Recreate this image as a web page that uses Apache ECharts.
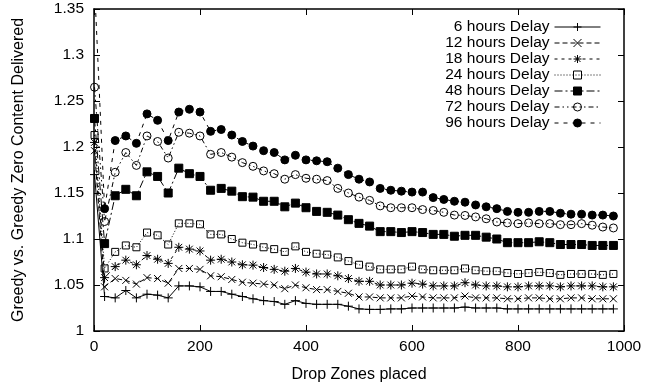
<!DOCTYPE html>
<html>
<head>
<meta charset="utf-8">
<script src="https://cdn.jsdelivr.net/npm/echarts@6/dist/echarts.min.js"></script>
<style>
  html, body { margin: 0; padding: 0; background: #fff; }
  #chart { width: 667px; height: 388px; }
</style>
</head>
<body>
<div id="chart"></div>
<script>
// ---- data ----
const xs = [1,20,40,60,80,100,120,140,160,180,200,220,240,260,280,300,320,340,360,380,400,420,440,460,480,500,520,540,560,580,600,620,640,660,680,700,720,740,760,780,800,820,840,860,880,900,920,940,960,980];

const h6 = [1.17, 1.0375,1.036,1.044,1.036,1.040,1.039,1.036,1.049,1.049,1.048, 1.043,1.043,1.040,1.0375,1.035,1.033,1.032,1.029,1.033,1.030, 1.029,1.029,1.029,1.027,1.024,1.0235,1.0235,1.024,1.024,1.025, 1.025,1.025,1.025,1.025,1.026,1.025,1.025,1.025,1.024,1.024, 1.024,1.024,1.024,1.024,1.024,1.024,1.024,1.024,1.024];
const h12 = [1.196, 1.048,1.057,1.055,1.051,1.058,1.057,1.052,1.068,1.068,1.067, 1.060,1.059,1.056,1.053,1.052,1.051,1.050,1.046,1.050,1.047, 1.045,1.045,1.043,1.041,1.037,1.037,1.036,1.036,1.036,1.038, 1.037,1.036,1.036,1.036,1.038,1.036,1.036,1.036,1.035,1.035, 1.036,1.036,1.035,1.035,1.036,1.036,1.035,1.035,1.035];
const h18 = [1.205, 1.058,1.070,1.077,1.072,1.082,1.078,1.0735,1.091,1.089,1.087, 1.077,1.078,1.075,1.072,1.0716,1.069,1.067,1.065,1.068,1.064, 1.062,1.062,1.060,1.057,1.054,1.054,1.050,1.050,1.050,1.052, 1.051,1.049,1.049,1.049,1.0525,1.050,1.049,1.049,1.048,1.048, 1.049,1.049,1.049,1.048,1.049,1.049,1.049,1.048,1.048];
const h24 = [1.213, 1.068,1.086,1.093,1.091,1.107,1.104,1.094,1.117,1.117,1.116, 1.105,1.105,1.100,1.096,1.094,1.091,1.089,1.086,1.092,1.086, 1.084,1.083,1.080,1.076,1.072,1.070,1.067,1.067,1.067,1.070, 1.067,1.066,1.066,1.066,1.068,1.066,1.065,1.065,1.063,1.062, 1.063,1.064,1.063,1.061,1.062,1.062,1.062,1.061,1.062];
const h48 = [1.231, 1.095,1.147,1.154,1.147,1.173,1.168,1.150,1.177,1.171,1.168, 1.153,1.155,1.152,1.146,1.1455,1.141,1.141,1.135,1.139,1.134, 1.130,1.129,1.126,1.121,1.117,1.114,1.108,1.108,1.107,1.108, 1.107,1.105,1.105,1.103,1.104,1.104,1.102,1.100,1.096,1.096, 1.096,1.097,1.096,1.094,1.094,1.094,1.093,1.093,1.093];
const h72 = [1.265, 1.119,1.1725,1.194,1.180,1.212,1.206,1.188,1.216,1.215,1.212, 1.192,1.194,1.189,1.183,1.179,1.174,1.171,1.165,1.170,1.166, 1.165,1.1635,1.155,1.150,1.1455,1.142,1.136,1.134,1.134,1.134, 1.132,1.131,1.129,1.126,1.1256,1.124,1.122,1.1185,1.1175,1.1167, 1.1175,1.1167,1.1167,1.1156,1.1156,1.1167,1.115,1.113,1.112];
const h96 = [1.375, 1.133,1.207,1.212,1.204,1.236,1.229,1.207,1.238,1.241,1.238, 1.217,1.219,1.213,1.206,1.201,1.196,1.194,1.186,1.191,1.186, 1.185,1.184,1.177,1.170,1.165,1.162,1.155,1.153,1.152,1.151, 1.151,1.145,1.143,1.141,1.140,1.137,1.135,1.133,1.130,1.129, 1.129,1.130,1.130,1.128,1.127,1.127,1.126,1.126,1.125];

const seriesNames = ['6 hours Delay','12 hours Delay','18 hours Delay','24 hours Delay','48 hours Delay','72 hours Delay','96 hours Delay'];
const seriesValues = [h6, h12, h18, h24, h48, h72, h96];

const xTickLabels = ['0','200','400','600','800','1000'];
const yTickLabels = ['1','1.05','1.1','1.15','1.2','1.25','1.3','1.35'];

const xTitle = 'Drop Zones placed';
const yTitle = 'Greedy vs. Greedy Zero Content Delivered';

// ---- styles ----
const FONT = "'Liberation Sans', Arial, Helvetica, sans-serif";
const FS = 15.5;
const styles = [
  { symbol: 'path://M0,-1L0,1M-1,0L1,0', size: 9, fill: 'rgba(0,0,0,0)', dash: 'solid' },
  { symbol: 'path://M-1,-1L1,1M-1,1L1,-1', size: 7, fill: 'rgba(0,0,0,0)', dash: [5, 3] },
  { symbol: 'path://M0,-1L0,1M-1,0L1,0M-0.75,-0.75L0.75,0.75M-0.75,0.75L0.75,-0.75', size: 9, fill: 'rgba(0,0,0,0)', dash: [3, 4] },
  { symbol: 'rect', size: 7, fill: 'rgba(0,0,0,0)', dash: [1, 2] },
  { symbol: 'rect', size: 8, fill: '#000', dash: [8, 3, 2, 3] },
  { symbol: 'circle', size: 8, fill: 'rgba(0,0,0,0)', dash: [5, 3, 1.5, 3, 1.5, 3] },
  { symbol: 'circle', size: 8, fill: '#000', dash: [4, 5] }
];

const series = seriesNames.map((name, i) => ({
  name: name,
  type: 'line',
  clip: true,
  showSymbol: true,
  showAllSymbol: true,
  symbol: styles[i].symbol,
  symbolSize: styles[i].size,
  data: xs.map((x, j) => [x, seriesValues[i][j]]),
  lineStyle: { color: '#000', width: 1, type: styles[i].dash },
  itemStyle: { color: styles[i].fill, borderColor: '#000', borderWidth: 1 },
  emphasis: { disabled: true }
}));

const axisCommonX = {
  type: 'value', min: 0, max: 1000, interval: 200,
  axisLine: { show: true, onZero: false, lineStyle: { color: '#000', width: 1.5 } },
  axisTick: { show: true, inside: true, length: 6, lineStyle: { color: '#000', width: 1 } },
  splitLine: { show: false }
};
const axisCommonY = {
  type: 'value', min: 1, max: 1.35, interval: 0.05,
  axisLine: { show: true, onZero: false, lineStyle: { color: '#000', width: 1.5 } },
  axisTick: { show: true, inside: true, length: 6, lineStyle: { color: '#000', width: 1 } },
  splitLine: { show: false }
};

const chart = echarts.init(document.getElementById('chart'), null, { renderer: 'canvas' });
chart.setOption({
  animation: false,
  backgroundColor: '#fff',
  textStyle: { fontFamily: FONT },
  grid: { left: 94, right: 43, top: 9, bottom: 55, containLabel: false },
  legend: {
    orient: 'vertical',
    right: 61,
    top: 14,
    align: 'right',
    itemWidth: 46,
    itemHeight: 10,
    itemGap: 0,
    data: seriesNames,
    textStyle: { fontSize: FS, color: '#000', fontFamily: FONT, lineHeight: 15.5 },
    lineStyle: { width: 1 },
    itemStyle: { borderWidth: 1 },
    selectedMode: false
  },
  xAxis: [
    Object.assign({}, axisCommonX, {
      position: 'bottom',
      axisLabel: {
        color: '#000', fontSize: FS, fontFamily: FONT, margin: 8,
        showMinLabel: true, showMaxLabel: true,
        formatter: v => xTickLabels[Math.round(v / 200)]
      },
      name: xTitle, nameLocation: 'middle', nameGap: 36,
      nameTextStyle: { color: '#000', fontSize: 16, fontFamily: FONT }
    }),
    Object.assign({}, axisCommonX, { position: 'top', axisLabel: { show: false } })
  ],
  yAxis: [
    Object.assign({}, axisCommonY, {
      position: 'left',
      axisLabel: {
        color: '#000', fontSize: FS, fontFamily: FONT, margin: 10,
        showMinLabel: true, showMaxLabel: true,
        formatter: v => yTickLabels[Math.round((v - 1) / 0.05)]
      },
      name: yTitle, nameLocation: 'middle', nameGap: 67, nameRotate: 90,
      nameTextStyle: { color: '#000', fontSize: 16, fontFamily: FONT }
    }),
    Object.assign({}, axisCommonY, { position: 'right', axisLabel: { show: false } })
  ],
  series: series
});
</script>
</body>
</html>
